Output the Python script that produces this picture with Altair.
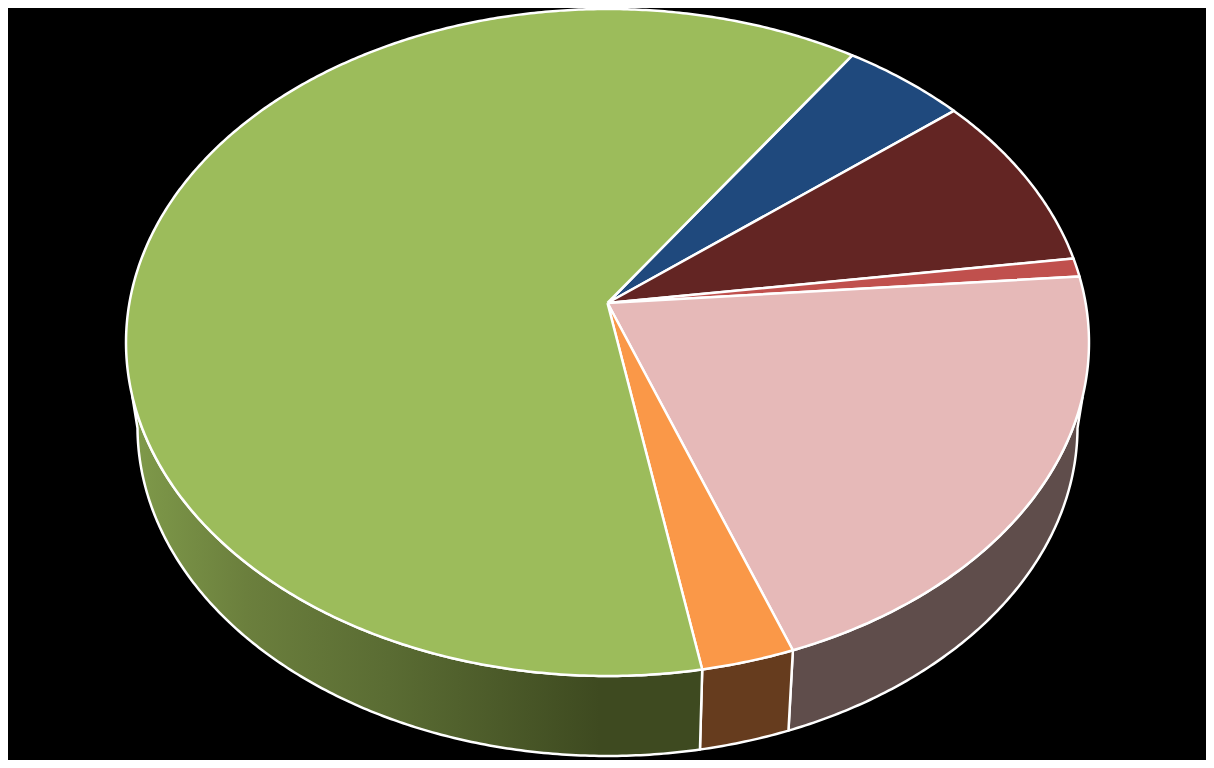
import math
import altair as alt
import pandas as pd

# pie shares (percent), clockwise starting at the green/blue boundary
shares = [4.7, 8.6, 0.9, 20.7, 2.8, 62.3]
top_colors = ["#1f497d", "#632523", "#c0504d", "#e6b9b8", "#fa9848", "#9cbc5b"]
start_angle = 34.2

# side wall colours for the slices that face the viewer
wall_fills = {
    3: "#5f4d4b",
    4: "#663c1e",
    5: alt.LinearGradient(
        gradient="linear", x1=1, x2=0, y1=0, y2=0,
        stops=[
            alt.GradientStop(color="#3e4a20", offset=0.0),
            alt.GradientStop(color="#3e4a20", offset=0.18),
            alt.GradientStop(color="#5a6c33", offset=0.55),
            alt.GradientStop(color="#6b7f3d", offset=0.80),
            alt.GradientStop(color="#7f9a4a", offset=1.0),
        ],
    ),
}
# where the walls disappear behind the top face: top rim, then bottom rim
top_limits = (106.0, 254.0)
bottom_limits = (97.0, 263.0)

# perspective of the top and bottom discs
C = 0.1184
TOP = dict(cx=607.5, cy=303.0, a=478.1, b=328.8)
BOTTOM = dict(cx=607.5, cy=388.0, a=466.7, b=324.4)


def project(angle, disc, r=1.0):
    t = math.radians(angle)
    X, Y = r * math.sin(t), r * math.cos(t)
    d = 1 + C * Y
    return disc["cx"] + disc["a"] * X / d, disc["cy"] - disc["b"] * Y / d


def sweep(a0, a1):
    n = max(2, int(abs(a1 - a0)) * 2)
    return [a0 + (a1 - a0) * k / n for k in range(n + 1)]


def frame(points):
    return pd.DataFrame(
        {"x": [p[0] for p in points], "y": [p[1] for p in points], "i": range(len(points))}
    )


# the plot area sits at (8, 8) on the page, so these domains are page pixels
xs = alt.X("x:Q", axis=None, scale=alt.Scale(domain=[8, 1206], nice=False, zero=False))
ys = alt.Y("y:Q", axis=None, scale=alt.Scale(domain=[760, 8], nice=False, zero=False))

bounds = [start_angle]
for s in shares:
    bounds.append(bounds[-1] + s * 3.6)

layers = []
for idx, fill in wall_fills.items():
    t0, t1 = max(bounds[idx], top_limits[0]), min(bounds[idx + 1], top_limits[1])
    b0, b1 = max(bounds[idx], bottom_limits[0]), min(bounds[idx + 1], bottom_limits[1])
    pts = [project(a, TOP) for a in sweep(t0, t1)]
    pts += [project(a, BOTTOM) for a in sweep(b1, b0)]
    pts.append(pts[0])
    layers.append(
        alt.Chart(frame(pts))
        .mark_line(fill=fill, stroke="white", strokeWidth=2.5, strokeJoin="round")
        .encode(x=xs, y=ys, order="i:Q")
    )

for idx, color in enumerate(top_colors):
    pts = [(TOP["cx"], TOP["cy"])]
    pts += [project(a, TOP) for a in sweep(bounds[idx], bounds[idx + 1])]
    pts.append(pts[0])
    layers.append(
        alt.Chart(frame(pts))
        .mark_line(fill=color, stroke="white", strokeWidth=2.5, strokeJoin="round")
        .encode(x=xs, y=ys, order="i:Q")
    )

chart = (
    alt.layer(*layers)
    .properties(
        width=1198,
        height=752,
        background="#000000",
        padding=0,
        autosize=alt.AutoSizeParams(type="none"),
    )
    .configure_view(stroke=None)
)

chart.save("out.html", embed_options={"renderer": "svg", "actions": False})
